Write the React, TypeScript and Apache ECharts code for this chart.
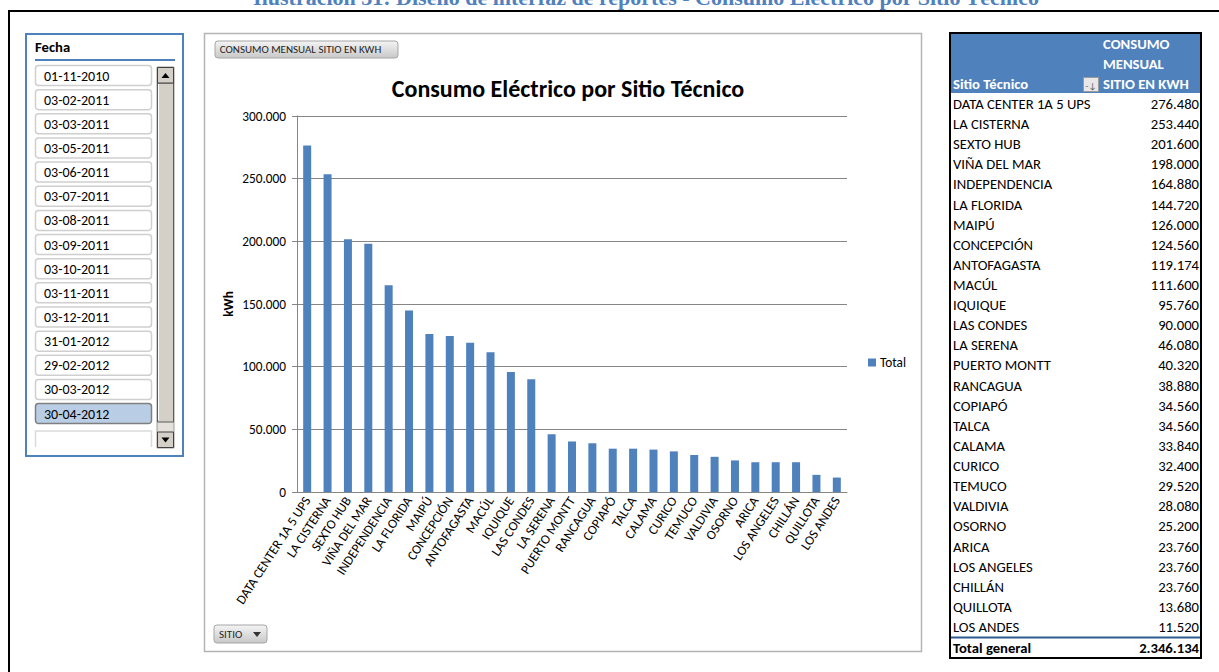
import React, { useEffect, useRef } from "react";
import * as echarts from "echarts";

const FONT = "Carlito, Lato, sans-serif";

// Sites ordered by monthly consumption (kWh)
const sites: string[] = [
  "DATA CENTER 1A 5 UPS", "LA CISTERNA", "SEXTO HUB", "VIÑA DEL MAR", "INDEPENDENCIA",
  "LA FLORIDA", "MAIPÚ", "CONCEPCIÓN", "ANTOFAGASTA", "MACÚL", "IQUIQUE", "LAS CONDES",
  "LA SERENA", "PUERTO MONTT", "RANCAGUA", "COPIAPÓ", "TALCA", "CALAMA", "CURICO",
  "TEMUCO", "VALDIVIA", "OSORNO", "ARICA", "LOS ANGELES", "CHILLÁN", "QUILLOTA", "LOS ANDES",
];

const consumption: number[] = [
  276480, 253440, 201600, 198000, 164880, 144720, 126000, 124560, 119174, 111600, 95760,
  90000, 46080, 40320, 38880, 34560, 34560, 33840, 32400, 29520, 28080, 25200, 23760,
  23760, 23760, 13680, 11520,
];

// Date slicer entries
const dates: string[] = [
  "01-11-2010", "03-02-2011", "03-03-2011", "03-05-2011", "03-06-2011", "03-07-2011",
  "03-08-2011", "03-09-2011", "03-10-2011", "03-11-2011", "03-12-2011", "31-01-2012",
  "29-02-2012", "30-03-2012", "30-04-2012",
];
const selectedDate = "30-04-2012";

const yTicks: number[] = [0, 50000, 100000, 150000, 200000, 250000, 300000];

const fmt = (v: number) => String(v).replace(/\B(?=(\d{3})+(?!\d))/g, ".");

function buildGraphics(): any[] {
  const g: any[] = [];
  const BLUE = "#4F81BD";

  // caption above the dashboard
  g.push({
    type: "text",
    x: 646,
    y: -3,
    style: {
      text: "Ilustración 31: Diseño de interfaz de reportes - Consumo Eléctrico por Sitio Técnico",
      font: 'bold 22px "Liberation Serif", serif',
      fill: BLUE,
      align: "center",
      verticalAlign: "middle",
    },
  });

  // outer frame
  g.push({
    type: "rect",
    shape: { x: 9, y: 11, width: 1230, height: 700 },
    style: { fill: "none", stroke: "#000", lineWidth: 2 },
  });

  // ---- date slicer ----
  g.push({
    type: "rect",
    shape: { x: 26, y: 34, width: 157, height: 422 },
    style: { fill: "#fff", stroke: BLUE, lineWidth: 2 },
  });
  g.push({
    type: "text",
    x: 35,
    y: 47,
    style: { text: "Fecha", font: `bold 14.67px ${FONT}`, fill: "#000", verticalAlign: "middle" },
  });
  g.push({
    type: "line",
    shape: { x1: 35, y1: 60, x2: 175, y2: 60 },
    style: { stroke: BLUE, lineWidth: 2 },
  });
  const step = 24.15;
  dates.forEach((d, i) => {
    const top = 65.5 + i * step;
    const sel = d === selectedDate;
    g.push({
      type: "rect",
      shape: { x: 35.5, y: top, width: 116, height: 20, r: 3 },
      style: { fill: sel ? "#B9CDE5" : "#fff", stroke: sel ? "#7F7F7F" : "#CFCFCF", lineWidth: 1.5 },
    });
    g.push({
      type: "text",
      x: 44,
      y: top + 10.5,
      style: { text: d, font: `14px ${FONT}`, fill: "#000", verticalAlign: "middle" },
    });
  });
  // partially visible empty entry
  g.push({
    type: "polyline",
    shape: { points: [[35.5, 447], [35.5, 431], [151.5, 431], [151.5, 447]] },
    style: { fill: "none", stroke: "#DADADA", lineWidth: 1.5 },
  });
  // scrollbar
  g.push({
    type: "rect",
    shape: { x: 157, y: 67, width: 17, height: 381 },
    style: { fill: "#E4E1DB", stroke: "#9A9A9A", lineWidth: 1 },
  });
  g.push({
    type: "rect",
    shape: { x: 157.5, y: 83, width: 16, height: 339 },
    style: { fill: "#D4D0C8", stroke: "#5A5A5A", lineWidth: 1 },
  });
  g.push({
    type: "line",
    shape: { x1: 158.5, y1: 84, x2: 158.5, y2: 420 },
    style: { stroke: "#FFFFFF", lineWidth: 1 },
  });
  g.push({
    type: "rect",
    shape: { x: 157.5, y: 67.5, width: 16, height: 15.5 },
    style: { fill: "#D4D0C8", stroke: "#404040", lineWidth: 1 },
  });
  g.push({
    type: "polygon",
    shape: { points: [[161.5, 78], [169.5, 78], [165.5, 73]] },
    style: { fill: "#000" },
  });
  g.push({
    type: "rect",
    shape: { x: 157.5, y: 432, width: 16, height: 15.5 },
    style: { fill: "#D4D0C8", stroke: "#404040", lineWidth: 1 },
  });
  g.push({
    type: "polygon",
    shape: { points: [[161.5, 437.5], [169.5, 437.5], [165.5, 442.5]] },
    style: { fill: "#000" },
  });

  // ---- chart frame and field buttons ----
  g.push({
    type: "rect",
    shape: { x: 204.5, y: 33.5, width: 717, height: 618 },
    style: { fill: "none", stroke: "#B4B4B4", lineWidth: 1.5 },
    z: -1,
  });
  const btnFill = new echarts.graphic.LinearGradient(0, 0, 0, 1, [
    { offset: 0, color: "#F4F4F4" },
    { offset: 1, color: "#C8C8C8" },
  ]);
  g.push({
    type: "rect",
    shape: { x: 215, y: 41, width: 183, height: 17, r: 3 },
    style: { fill: btnFill, stroke: "#A6A6A6", lineWidth: 1 },
  });
  g.push({
    type: "text",
    x: 300.5,
    y: 49.5,
    style: {
      text: "CONSUMO MENSUAL SITIO EN KWH",
      font: `11px ${FONT}`,
      fill: "#262626",
      align: "center",
      verticalAlign: "middle",
    },
  });
  g.push({
    type: "rect",
    shape: { x: 214, y: 625, width: 53, height: 18, r: 3 },
    style: { fill: btnFill, stroke: "#A6A6A6", lineWidth: 1 },
  });
  g.push({
    type: "text",
    x: 219,
    y: 634,
    style: { text: "SITIO", font: `11px ${FONT}`, fill: "#262626", verticalAlign: "middle" },
  });
  g.push({
    type: "polygon",
    shape: { points: [[253, 632], [261, 632], [257, 637]] },
    style: { fill: "#333" },
  });

  // ---- pivot table ----
  g.push({
    type: "rect",
    shape: { x: 951, y: 34, width: 249, height: 59 },
    style: { fill: BLUE },
  });
  const hdr = `bold 14.67px ${FONT}`;
  ["CONSUMO", "MENSUAL", "SITIO EN KWH"].forEach((t, i) => {
    g.push({
      type: "text",
      x: 1103,
      y: 44 + i * 20,
      style: { text: t, font: hdr, fill: "#fff", verticalAlign: "middle" },
    });
  });
  g.push({
    type: "text",
    x: 953,
    y: 84,
    style: { text: "Sitio Técnico", font: hdr, fill: "#fff", verticalAlign: "middle" },
  });
  g.push({
    type: "rect",
    shape: { x: 1083.5, y: 77.5, width: 15, height: 14 },
    style: { fill: "#E8E8E8", stroke: "#9A9A9A", lineWidth: 1 },
  });
  g.push({
    type: "text",
    x: 1091,
    y: 85,
    style: { text: "-↓", font: `9px ${FONT}`, fill: "#555", align: "center", verticalAlign: "middle" },
  });
  const rowStep = 20.115;
  const cell = `14.67px ${FONT}`;
  sites.forEach((s, i) => {
    const y = 104 + i * rowStep;
    g.push({
      type: "text",
      x: 953,
      y,
      style: { text: s, font: cell, fill: "#000", verticalAlign: "middle" },
    });
    g.push({
      type: "text",
      x: 1199,
      y,
      style: { text: fmt(consumption[i]), font: cell, fill: "#000", align: "right", verticalAlign: "middle" },
    });
  });
  g.push({
    type: "line",
    shape: { x1: 951, y1: 637.5, x2: 1200, y2: 637.5 },
    style: { stroke: "#2F5C8F", lineWidth: 2 },
  });
  const total = consumption.reduce((a, b) => a + b, 0);
  g.push({
    type: "text",
    x: 953,
    y: 647.5,
    style: { text: "Total general", font: `bold 14.67px ${FONT}`, fill: "#000", verticalAlign: "middle" },
  });
  g.push({
    type: "text",
    x: 1199,
    y: 647.5,
    style: { text: fmt(total), font: `bold 14.67px ${FONT}`, fill: "#000", align: "right", verticalAlign: "middle" },
  });
  g.push({
    type: "rect",
    shape: { x: 950, y: 33, width: 251, height: 625 },
    style: { fill: "none", stroke: "#000", lineWidth: 2 },
  });

  return g;
}

export default function App() {
  const ref = useRef<HTMLDivElement>(null);

  useEffect(() => {
    if (!ref.current) return;
    const chart = echarts.init(ref.current, null, { renderer: "svg" });
    const axisGrey = "#868686";
    chart.setOption({
      animation: false,
      backgroundColor: "#fff",
      textStyle: { fontFamily: FONT },
      title: {
        text: "Consumo Eléctrico por Sitio Técnico",
        left: 563,
        top: 71,
        textAlign: "center",
        textStyle: { fontFamily: FONT, fontSize: 24, fontWeight: "bold", color: "#000" },
      },
      legend: {
        data: ["Total"],
        left: 868,
        top: 356,
        padding: 0,
        itemWidth: 8,
        itemHeight: 8,
        icon: "rect",
        textStyle: { fontFamily: FONT, fontSize: 13.3, color: "#000", padding: [0, 0, 0, -1] },
      },
      grid: { left: 297, top: 116, width: 550, height: 376, containLabel: false },
      xAxis: {
        type: "category",
        data: sites,
        axisLine: { lineStyle: { color: axisGrey } },
        axisTick: { length: 5, lineStyle: { color: axisGrey } },
        axisLabel: { rotate: 57, interval: 0, fontSize: 13.3, color: "#000", margin: 6, fontFamily: FONT },
      },
      yAxis: {
        type: "value",
        min: yTicks[0],
        max: yTicks[yTicks.length - 1],
        interval: yTicks[1] - yTicks[0],
        name: "kWh",
        nameLocation: "middle",
        nameGap: 62,
        nameTextStyle: { fontFamily: FONT, fontSize: 13.3, fontWeight: "bold", color: "#000" },
        axisLine: { show: true, lineStyle: { color: axisGrey } },
        axisTick: { show: true, length: 5, lineStyle: { color: axisGrey } },
        splitLine: { lineStyle: { color: axisGrey } },
        axisLabel: { formatter: (v: number) => fmt(v), fontSize: 13.3, color: "#000", margin: 11, fontFamily: FONT },
      },
      series: [
        {
          type: "bar",
          name: "Total",
          data: consumption,
          barWidth: 8,
          itemStyle: { color: "#4F81BD" },
        },
      ],
      graphic: buildGraphics(),
    });
    return () => chart.dispose();
  }, []);

  return (
    <div
      ref={ref}
      style={{ position: "fixed", left: 0, top: 0, width: 1219, height: 672, background: "#fff" }}
    />
  );
}
